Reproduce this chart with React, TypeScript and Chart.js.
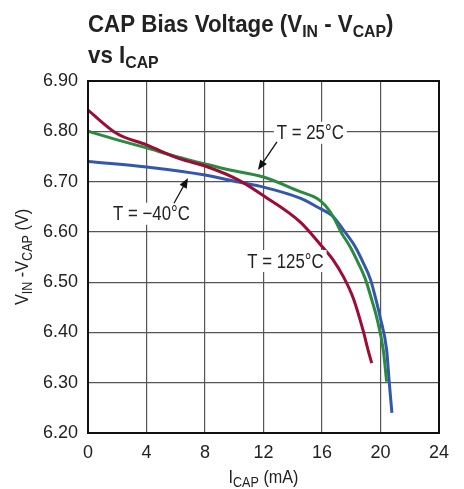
import React, { useEffect, useRef } from "react";
import { Chart, registerables } from "chart.js";

Chart.register(...registerables);

const xTicks = [0, 4, 8, 12, 16, 20, 24];
const yTicks = [6.2, 6.3, 6.4, 6.5, 6.6, 6.7, 6.8, 6.9];

const iRed = [0, 2, 4, 6.3, 8, 10.3, 12, 14.5, 16, 16.77, 17.46, 18.14, 18.8, 19.15, 19.4];
const vRed = [6.842, 6.795, 6.773, 6.745, 6.731, 6.703, 6.672, 6.62, 6.571, 6.544, 6.511, 6.468, 6.405, 6.365, 6.339];

const iGreen = [0, 2, 4, 6, 8, 9.7, 12, 14.5, 15.64, 16.21, 16.77, 17.35, 17.91, 18.48, 18.99, 19.4, 19.73, 20.19, 20.42];
const vGreen = [6.8, 6.783, 6.767, 6.75, 6.735, 6.723, 6.709, 6.68, 6.667, 6.653, 6.63, 6.597, 6.571, 6.538, 6.504, 6.465, 6.431, 6.365, 6.302];

const iBlue = [0, 4, 8, 10.3, 12, 14.5, 15.64, 16.77, 17.46, 18.26, 18.83, 19.33, 19.69, 19.97, 20.42, 20.6, 20.78];
const vBlue = [6.74, 6.729, 6.713, 6.699, 6.689, 6.667, 6.65, 6.63, 6.604, 6.571, 6.538, 6.504, 6.465, 6.431, 6.365, 6.3, 6.24];

const labels = [
  { text: "T = 25°C", x: 15.2, y: 6.797, ax0: 12.92, ay0: 6.779, ax1: 11.62, ay1: 6.723 },
  { text: "T = \u221240°C", x: 4.34, y: 6.636, ax0: 5.88, ay0: 6.657, ax1: 6.84, ay1: 6.707 },
  { text: "T = 125°C", x: 13.5, y: 6.542 },
];

const FONT = '"Liberation Sans", Arial, sans-serif';

type Seg = { t: string; sub?: boolean };

function drawSegs(ctx: CanvasRenderingContext2D, segs: Seg[], x: number, y: number, size: number, subSize: number, bold: boolean, align: "left" | "center", sx: number) {
  const f = (s: Seg) => `${bold ? "bold " : ""}${s.sub ? subSize : size}px ${FONT}`;
  let total = 0;
  segs.forEach((s) => {
    ctx.font = f(s);
    total += ctx.measureText(s.t).width;
  });
  const start = align === "center" ? x - (total * sx) / 2 : x;
  ctx.save();
  ctx.translate(start, y);
  ctx.scale(sx, 1);
  ctx.textAlign = "left";
  ctx.textBaseline = "alphabetic";
  let cx = 0;
  segs.forEach((s) => {
    ctx.font = f(s);
    ctx.fillText(s.t, cx, s.sub ? size * 0.2 : 0);
    cx += ctx.measureText(s.t).width;
  });
  ctx.restore();
}

const decorPlugin = {
  id: "decor",
  afterDatasetsDraw(chart: any) {
    const { ctx, chartArea, scales } = chart;
    const xs = scales.x;
    const ys = scales.y;
    ctx.save();
    // frame
    ctx.strokeStyle = "#111";
    ctx.lineWidth = 2;
    ctx.strokeRect(chartArea.left, chartArea.top, chartArea.right - chartArea.left, chartArea.bottom - chartArea.top);

    // annotations
    const sxA = 0.84;
    labels.forEach((l) => {
      const px = xs.getPixelForValue(l.x);
      const py = ys.getPixelForValue(l.y);
      ctx.font = `20px ${FONT}`;
      const tw = ctx.measureText(l.text).width * sxA;
      ctx.fillStyle = "#fff";
      ctx.fillRect(px - tw / 2 - 3, py - 11, tw + 6, 22);
      ctx.fillStyle = "#222";
      ctx.save();
      ctx.translate(px, py + 1);
      ctx.scale(sxA, 1);
      ctx.textAlign = "center";
      ctx.textBaseline = "middle";
      ctx.fillText(l.text, 0, 0);
      ctx.restore();
      if (l.ax0 !== undefined) {
        const x0 = xs.getPixelForValue(l.ax0);
        const y0 = ys.getPixelForValue(l.ay0);
        const x1 = xs.getPixelForValue(l.ax1);
        const y1 = ys.getPixelForValue(l.ay1);
        const ang = Math.atan2(y1 - y0, x1 - x0);
        const hl = 10;
        const hw = 4;
        ctx.strokeStyle = "#111";
        ctx.lineWidth = 1.3;
        ctx.beginPath();
        ctx.moveTo(x0, y0);
        ctx.lineTo(x1 - Math.cos(ang) * hl * 0.8, y1 - Math.sin(ang) * hl * 0.8);
        ctx.stroke();
        ctx.fillStyle = "#111";
        ctx.beginPath();
        ctx.moveTo(x1, y1);
        ctx.lineTo(x1 - Math.cos(ang) * hl - Math.sin(ang) * hw, y1 - Math.sin(ang) * hl + Math.cos(ang) * hw);
        ctx.lineTo(x1 - Math.cos(ang) * hl + Math.sin(ang) * hw, y1 - Math.sin(ang) * hl - Math.cos(ang) * hw);
        ctx.closePath();
        ctx.fill();
      }
    });

    // title
    ctx.fillStyle = "#222";
    drawSegs(ctx, [{ t: "CAP Bias Voltage (V" }, { t: "IN", sub: true }, { t: " - V" }, { t: "CAP", sub: true }, { t: ")" }], chartArea.left, 32, 24, 17, true, "left", 0.93);
    drawSegs(ctx, [{ t: "vs I" }, { t: "CAP", sub: true }], chartArea.left, 63, 24, 17, true, "left", 0.93);

    // x title
    drawSegs(ctx, [{ t: "I" }, { t: "CAP", sub: true }, { t: " (mA)" }], (chartArea.left + chartArea.right) / 2, 483, 18, 14, false, "center", 0.9);

    // y title
    ctx.save();
    ctx.translate(28, (chartArea.top + chartArea.bottom) / 2);
    ctx.rotate(-Math.PI / 2);
    drawSegs(ctx, [{ t: "V" }, { t: "IN", sub: true }, { t: " -V" }, { t: "CAP", sub: true }, { t: " (V)" }], 0, 0, 18, 14, false, "center", 0.9);
    ctx.restore();

    ctx.restore();
  },
};

export default function App() {
  const ref = useRef<HTMLCanvasElement>(null);
  useEffect(() => {
    if (!ref.current) return;
    const mk = (xs: number[], ys: number[]) => xs.map((x, i) => ({ x, y: ys[i] }));
    const line = (label: string, data: any, color: string) => ({
      label,
      data,
      borderColor: color,
      backgroundColor: color,
      borderWidth: 3,
      pointRadius: 0,
      cubicInterpolationMode: "monotone" as const,
      fill: false,
    });
    const tickFont = { family: FONT, size: 18 };
    const chart = new Chart(ref.current, {
      type: "line",
      data: {
        datasets: [
          line("T = 125°C", mk(iRed, vRed), "#9c0c35"),
          line("T = 25°C", mk(iGreen, vGreen), "#2a8a40"),
          line("T = −40°C", mk(iBlue, vBlue), "#3457ae"),
        ],
      },
      options: {
        responsive: false,
        animation: false,
        layout: { padding: { top: 81, right: 25, left: 0, bottom: 0 } },
        plugins: { legend: { display: false }, tooltip: { enabled: false }, title: { display: false } },
        scales: {
          x: {
            type: "linear",
            min: 0,
            max: 24,
            afterBuildTicks: (s: any) => { s.ticks = xTicks.map((v) => ({ value: v })); },
            afterFit: (s: any) => { s.height = 56; },
            ticks: { font: tickFont, color: "#222", padding: 9, callback: (v: any) => String(v) },
            grid: { color: "#555", lineWidth: 1.2, drawTicks: false },
            border: { display: false },
          },
          y: {
            type: "linear",
            min: 6.2,
            max: 6.9,
            afterBuildTicks: (s: any) => { s.ticks = yTicks.map((v) => ({ value: v })); },
            afterFit: (s: any) => { s.width = 88; },
            ticks: { font: tickFont, color: "#222", padding: 10, callback: (v: any) => Number(v).toFixed(2) },
            grid: { color: "#555", lineWidth: 1.2, drawTicks: false },
            border: { display: false },
          },
        },
      },
      plugins: [decorPlugin],
    });
    return () => chart.destroy();
  }, []);
  return (
    <div style={{ position: "absolute", left: 0, top: 0, width: 464, height: 489, background: "#fff" }}>
      <canvas ref={ref} width={464} height={489} style={{ display: "block", width: 464, height: 489 }} />
    </div>
  );
}
